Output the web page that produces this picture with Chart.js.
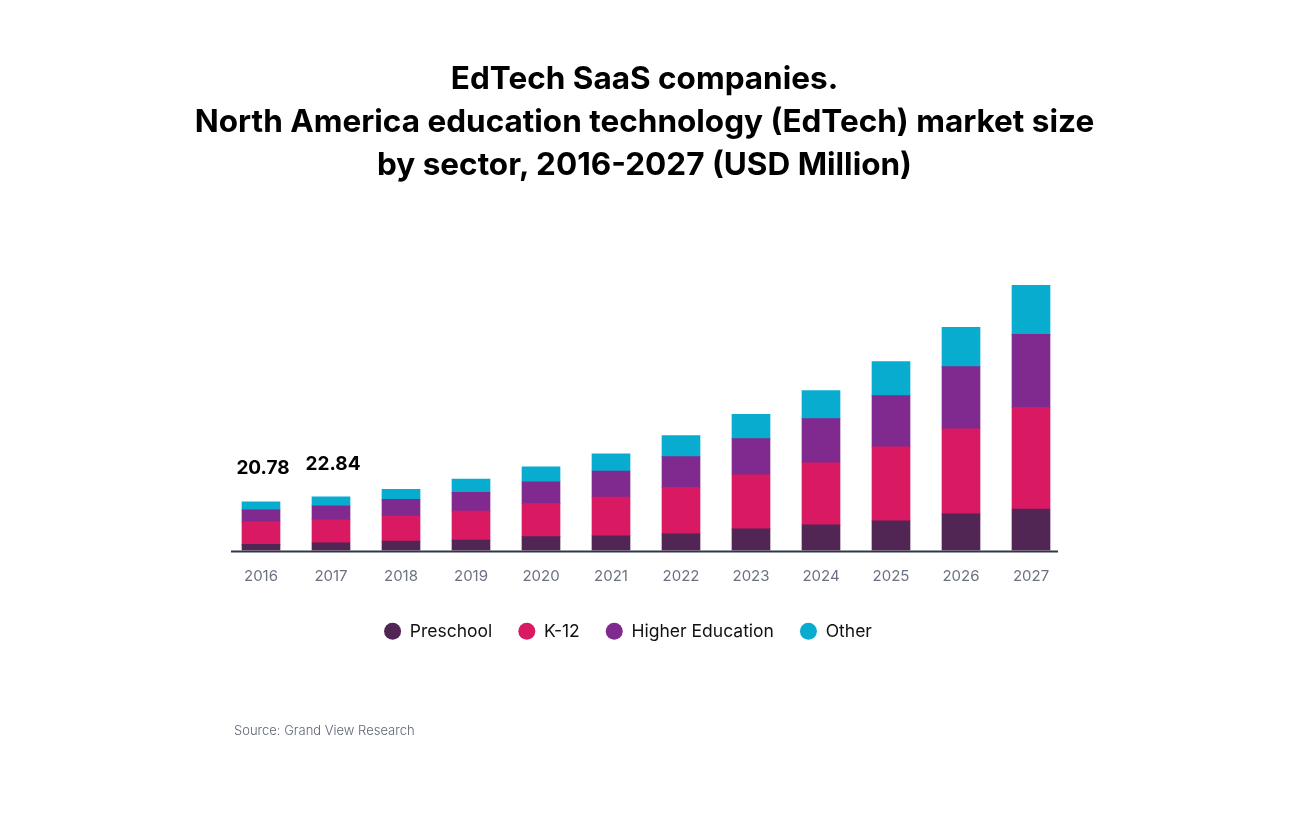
<!DOCTYPE html>
<html>
<head>
<meta charset="utf-8">
<script src="https://cdn.jsdelivr.net/npm/chart.js@4"></script>
<style>
  body { margin: 0; background: #fff; font-family: Inter, sans-serif; }
  #wrap { position: relative; width: 1289px; height: 832px; }
  #title { position: absolute; top: 56px; left: 0; width: 1289px; text-align: center;
           font-weight: 700; font-size: 31.5px; line-height: 43px; color: #000; }
  #source { position: absolute; left: 234px; top: 722px; font-size: 13px; font-weight: 300; color: #5f6577; }
  canvas { position: absolute; left: 0; top: 0; }
</style>
</head>
<body>
<div id="wrap">
  <canvas id="chart" width="1289" height="832"></canvas>
  <div id="title">EdTech SaaS companies.<br>North America education technology (EdTech) market size<br>by sector, 2016-2027 (USD Million)</div>
  <div id="source">Source: Grand View Research</div>
</div>
<script>
// données
const years = ['2016', '2017', '2018', '2019', '2020', '2021', '2022', '2023', '2024', '2025', '2026', '2027'];
const preschool = [2.6, 3.3, 4.0, 4.4, 5.9, 6.3, 7.1, 9.2, 10.9, 12.6, 15.6, 17.7];
const k12 = [9.6, 9.8, 10.7, 12.4, 14.1, 16.5, 19.8, 23.1, 26.5, 31.6, 36.3, 43.3];
const higherEd = [5.1, 5.9, 7.1, 8.0, 9.3, 11.1, 13.1, 15.4, 18.8, 21.8, 26.5, 31.1];
const other = [3.48, 3.84, 4.3, 5.6, 6.4, 7.3, 9.0, 10.3, 12.0, 14.5, 16.7, 20.9];
const totalLabels = ['20.78', '22.84', '', '', '', '', '', '', '', '', '', ''];

const colors = {
    preschool: '#512655',
    k12: '#d91a63',
    higherEd: '#802a8f',
    other: '#08accf'
};

// étiquettes des totaux au-dessus des barres
const totalsPlugin = {
    id: 'totals',
    afterLayout(chart) {
        // la légende est un peu décalée dans l'original
        chart.legend.left -= 18;
        chart.legend.right -= 18;
        chart.legend.top += 2;
        chart.legend.bottom += 2;
    },
    beforeDatasetsDraw(chart) {
        // ligne de base, un peu plus courte que la zone du graphique
        const ctx = chart.ctx;
        const area = chart.chartArea;
        const y0 = chart.scales.y.getPixelForValue(0);
        ctx.save();
        ctx.strokeStyle = '#2f3747';
        ctx.lineWidth = 2;
        ctx.beginPath();
        ctx.moveTo(area.left + 5, y0 + 1);
        ctx.lineTo(area.right - 8, y0 + 1);
        ctx.stroke();
        ctx.restore();
    },
    afterDatasetsDraw(chart) {
        const ctx = chart.ctx;
        const x = chart.scales.x;
        const y = chart.scales.y;
        ctx.save();
        ctx.font = 'bold 19px Inter';
        ctx.fillStyle = '#000';
        ctx.textAlign = 'center';
        ctx.textBaseline = 'middle';
        totalLabels.forEach((txt, i) => {
            if (!txt) return;
            const total = preschool[i] + k12[i] + higherEd[i] + other[i];
            ctx.fillText(txt, x.getPixelForValue(i) + 2, y.getPixelForValue(total) - 33);
        });
        ctx.restore();
    }
};

const ctx = document.getElementById('chart').getContext('2d');
new Chart(ctx, {
    type: 'bar',
    data: {
        labels: years,
        datasets: [
            { label: 'Preschool', data: preschool, backgroundColor: colors.preschool },
            { label: 'K-12', data: k12, backgroundColor: colors.k12 },
            { label: 'Higher Education', data: higherEd, backgroundColor: colors.higherEd },
            { label: 'Other', data: other, backgroundColor: colors.other }
        ]
    },
    options: {
        responsive: false,
        animation: false,
        layout: {
            padding: { left: 226, right: 223, top: 269, bottom: 184 }
        },
        datasets: {
            bar: { barThickness: 38 }
        },
        plugins: {
            legend: {
                position: 'bottom',
                labels: {
                    usePointStyle: true,
                    pointStyle: 'circle',
                    pointStyleWidth: 17,
                    boxHeight: 12,
                    padding: 26,
                    color: '#111',
                    font: { family: 'Inter', size: 17.5 }
                }
            },
            tooltip: { enabled: false }
        },
        scales: {
            x: {
                stacked: true,
                grid: { display: false },
                border: { display: false },
                ticks: { color: '#6b7183', padding: 9, font: { family: 'Inter', size: 15 } }
            },
            y: {
                stacked: true,
                display: false,
                min: 0,
                max: 120
            }
        }
    },
    plugins: [totalsPlugin]
});
</script>
</body>
</html>
